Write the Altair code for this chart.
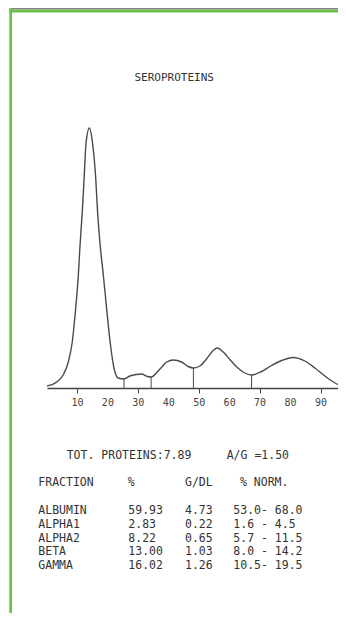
import altair as alt
import pandas as pd

# ---- densitometric trace (mobility, absorbance) ----
mobility = [0.0, 3.2, 5.3, 7.0, 8.3, 9.4, 10.3, 10.8, 11.6, 12.2, 12.8, 13.9,
            15.0, 16.0, 16.6, 17.4, 18.5, 19.6, 20.7, 22.0, 23.4, 25.3, 27.2,
            29.4, 31.1, 33.0, 34.2, 37.1, 39.3, 41.5, 44.2, 46.4, 48.1, 50.2,
            52.4, 54.6, 56.0, 57.9, 60.5, 62.9, 65.0, 67.2, 70.5, 73.8, 77.1,
            80.9, 84.7, 88.0, 91.3, 94.6, 97.3]
absorbance = [2, 6, 13, 26, 46, 79, 113, 140, 177, 210, 244, 260,
              244, 210, 177, 145, 113, 79, 47, 20, 10, 9, 12,
              13.5, 14, 11.5, 11, 19, 26, 28, 26, 21.5, 20, 22,
              29, 37.5, 40, 36, 27, 19.5, 15, 13, 16.5, 22.5, 27.5,
              30.5, 27, 20, 12, 5, 1.5]

# fraction separation marks
sep_pos = [25.3, 34.2, 48.1, 67.2]
sep_height = [9, 11, 20, 13]

tick_values = [10, 20, 30, 40, 50, 60, 70, 80, 90]

# ---- report table ----
title_text = "SEROPROTEINS"
tot_proteins = "TOT. PROTEINS:7.89"
ag_ratio = "A/G =1.50"
headers = ["FRACTION", "%", "G/DL", "% NORM."]
fractions = ["ALBUMIN", "ALPHA1", "ALPHA2", "BETA", "GAMMA"]
percent = ["59.93", "2.83", "8.22", "13.00", "16.02"]
g_dl = ["4.73", "0.22", "0.65", "1.03", "1.26"]
norm = ["53.0- 68.0", "1.6 - 4.5", "5.7 - 11.5", "8.0 - 14.2", "10.5- 19.5"]

FONT = "DejaVu Sans Mono"
INK = "#333333"
GREEN = "#6cc04a"

trace = pd.DataFrame({"mobility": mobility, "absorbance": absorbance})
seps = pd.DataFrame({"pos": sep_pos, "h": sep_height})
ticks = pd.DataFrame({"tick": tick_values})
one = pd.DataFrame({"a": [0]})

xscale = alt.Scale(domain=[0, 95.6], nice=False, zero=False)
yscale = alt.Scale(domain=[0, 270], nice=False)

x_axis = alt.Axis(values=tick_values, title=None, grid=False, labels=False,
                  domainColor="#444444", domainWidth=1.6,
                  tickColor="#444444", tickWidth=1, tickSize=5)

line = alt.Chart(trace).mark_line(
    interpolate="monotone", clip=True, color="#4a4a4a", strokeWidth=1.4
).encode(
    x=alt.X("mobility:Q", scale=xscale, axis=x_axis),
    y=alt.Y("absorbance:Q", scale=yscale, axis=None),
)

rules = alt.Chart(seps).mark_rule(color="#4a4a4a", strokeWidth=1).encode(
    x=alt.X("pos:Q", scale=xscale, axis=x_axis),
    y=alt.Y("h:Q", scale=yscale, axis=None),
    y2=alt.Y2("zero:Q"),
).transform_calculate(zero="0")

tick_labels = alt.Chart(ticks).mark_text(
    font=FONT, fontSize=10, color="#444444", align="center", baseline="middle"
).encode(
    x=alt.X("tick:Q", scale=xscale, axis=x_axis),
    y=alt.value(285.3),
    text=alt.Text("tick:Q", format="d"),
)


def txt(s, x, y, size=11.5, align="left"):
    return alt.Chart(pd.DataFrame({"t": [s]})).mark_text(
        font=FONT, fontSize=size, color=INK, align=align,
        baseline="alphabetic", lineBreak="\n", lineHeight=13.75,
    ).encode(text="t:N", x=alt.value(x), y=alt.value(y))


texts = [
    txt(title_text, 127.2, -37.2, size=11, align="center"),
    txt(tot_proteins, 19.7, 341.2),
    txt(ag_ratio, 179.7, 341.2),
    txt(headers[0], -8.7, 367.9),
    txt(headers[1], 80.7, 367.9),
    txt(headers[2], 138, 367.9),
    txt(headers[3], 193, 367.9),
    txt("\n".join(fractions), -8.7, 396.2),
    txt("\n".join(percent), 81.3, 396.2),
    txt("\n".join(g_dl), 138, 396.2),
    txt("\n".join(norm), 186.3, 396.2),
]

# photo frame (grey strip + green border) around the printout
band = alt.Chart(one).mark_rule(color="#8a7d87", strokeWidth=1.5).encode(
    x=alt.datum(-11.5, scale=xscale), x2=alt.datum(95.6), y=alt.value(-109.3))
green_top = alt.Chart(one).mark_rule(color=GREEN, strokeWidth=3).encode(
    x=alt.datum(-12.4, scale=xscale), x2=alt.datum(95.6), y=alt.value(-107))
green_left = alt.Chart(one).mark_rule(color=GREEN, strokeWidth=2.8).encode(
    x=alt.datum(-11.93, scale=xscale), y=alt.value(-110), y2=alt.value(495))

chart = alt.layer(band, green_top, green_left, rules, line, tick_labels,
                  *texts).properties(
    width=291, height=270,
    autosize=alt.AutoSizeParams(type="none"),
    padding={"left": 39, "right": 0, "top": 110, "bottom": 225},
    background="white",
).configure_view(stroke=None)

chart.save("out.html", embed_options={"renderer": "svg", "actions": False})
